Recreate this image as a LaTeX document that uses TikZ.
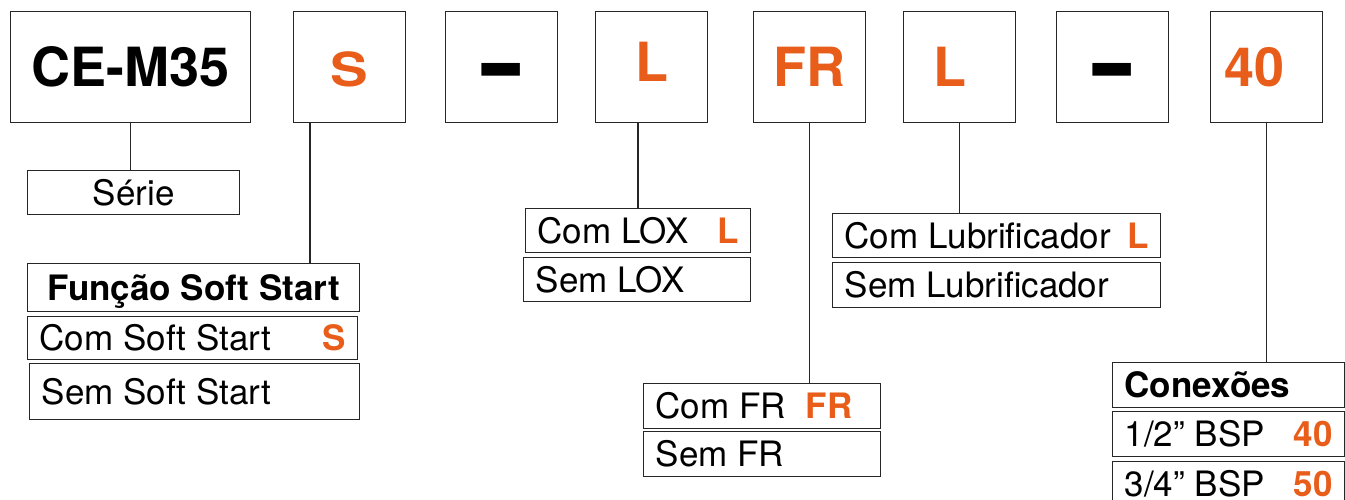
\documentclass[tikz,border=0pt]{standalone}
\usepackage{fontspec}
\usepackage{graphicx}
\setmainfont{TeX Gyre Heros}
\definecolor{codeorange}{RGB}{232,93,26}
\newcommand{\code}[1]{\textcolor{codeorange}{\textbf{#1}}}
\newcommand{\bigfont}{\fontsize{54pt}{60pt}\selectfont\bfseries}
\newcommand{\optfont}{\fontsize{35pt}{40pt}\selectfont}
\tikzset{
  codebox/.style={draw=black!85, line width=1.4pt, anchor=north west,
    minimum width=112pt, minimum height=111pt, inner sep=0pt,
    font=\bigfont, text=codeorange, text height=39pt, text depth=0pt},
  optbox/.style={draw=black!85, line width=1.4pt, anchor=north west,
    inner xsep=12pt, inner ysep=0pt, align=flush left, font=\optfont,
    text height=25pt, text depth=0pt},
  link/.style={draw=black!85, line width=1.4pt}
}
\begin{document}
\begin{tikzpicture}[x=1pt, y=-1pt]
\useasboundingbox (0,0) rectangle (1345,500);
% code boxes
\node[codebox, minimum width=240pt, text=black] (ce) at (10,11) {CE-M35};
\node[codebox] (s) at (293,11) {\fontsize{47pt}{50pt}\selectfont\scalebox{1.2}[1]{S}};
\node[codebox, text=black, font=\fontsize{68pt}{70pt}\selectfont\bfseries, text height=68pt] (dasha) at (445,11) {\scalebox{1}[1.8]{–}};
\node[codebox] (lone) at (595,11) {\raisebox{5pt}{L}};
\node[codebox] (fr) at (753,11) {FR};
\node[codebox] (ltwo) at (903,11) {\hspace*{-20pt}L};
\node[codebox, text=black, font=\fontsize{68pt}{70pt}\selectfont\bfseries, text height=68pt] (dashb) at (1056,11) {\scalebox{1}[1.8]{–}};
\node[codebox] (n40) at (1210,11) {\hspace*{-24pt}40};
% option boxes
\node[optbox, text width=188pt, minimum height=44pt, align=flush center] (serie) at (27,170) {Série};
\node[optbox, text width=308pt, minimum height=48pt, align=flush center] (fun) at (27,263) {\textbf{Função Soft Start}};
\node[optbox, text width=306pt, minimum height=43pt] (comss) at (27,316) {Com Soft Start\hfill\code{S}};
\node[optbox, text width=306pt, minimum height=56pt] (semss) at (29,363) {Sem Soft Start};
\node[optbox, text width=201pt, minimum height=44pt] (comlox) at (525,208) {Com LOX\hfill\code{L}};
\node[optbox, text width=203pt, minimum height=44pt] (semlox) at (523,257) {Sem LOX};
\node[optbox, text width=213pt, minimum height=45pt] (comfr) at (643,383) {Com FR\hspace{20pt}\code{FR}};
\node[optbox, text width=213pt, minimum height=45pt] (semfr) at (643,431) {Sem FR};
\node[optbox, text width=304pt, minimum height=44pt] (comlub) at (832,213) {Com Lubrificador\hfill\code{L}};
\node[optbox, text width=304pt, minimum height=45pt] (semlub) at (832,262) {Sem Lubrificador};
\node[optbox, text width=208pt, minimum height=45pt] (con) at (1112,362) {\textbf{Conexões}};
\node[optbox, text width=208pt, minimum height=45pt] (c40) at (1112,411) {1/2” BSP\hfill\code{40}};
\node[optbox, text width=208pt, minimum height=45pt] (c50) at (1112,461) {3/4” BSP\hfill\code{50}};
% connectors
\coordinate (stop) at ([xshift=17pt]s.south west);
\coordinate (ltop) at ([xshift=43pt]lone.south west);
\draw[link] (ce.south) -- (ce.south |- serie.north);
\draw[link] (stop) -- (stop |- fun.north);
\draw[link] (ltop) -- (ltop |- comlox.north);
\draw[link] (fr.south) -- (fr.south |- comfr.north);
\draw[link] (ltwo.south) -- (ltwo.south |- comlub.north);
\draw[link] (n40.south) -- (n40.south |- con.north);
\end{tikzpicture}
\end{document}
